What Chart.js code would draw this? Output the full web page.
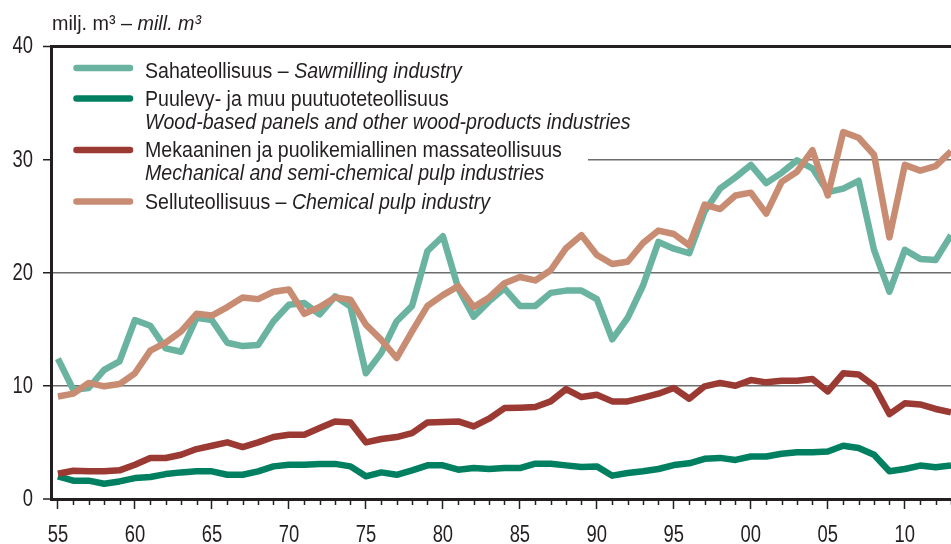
<!DOCTYPE html>
<html>
<head>
<meta charset="utf-8">
<script src="https://cdn.jsdelivr.net/npm/chart.js@4.4.1/dist/chart.umd.min.js"></script>
<style>
html,body{margin:0;padding:0;background:#fff;}
#wrap{width:951px;height:544px;position:relative;}
</style>
</head>
<body>
<div id="wrap"><canvas id="c" width="951" height="544"></canvas></div>
<script>
const years = [];
for (let y = 1955; y <= 2013; y++) years.push(y);

const sawmilling = [12.4, 9.65, 9.8, 11.4, 12.15, 15.8, 15.3, 13.3, 13.0, 16.0, 15.8, 13.8, 13.5, 13.6, 15.7, 17.15, 17.3, 16.3, 17.9, 17.0,
  11.1, 12.9, 15.7, 17.05, 21.9, 23.2, 18.6, 16.1, 17.45, 18.6, 17.05, 17.05, 18.2, 18.4, 18.4, 17.65, 14.1, 16.0, 18.85,
  22.7, 22.1, 21.7, 25.4, 27.4, 28.4, 29.5, 27.9, 28.8, 29.9, 29.2, 27.1, 27.4, 28.1, 22.0, 18.3, 22.0, 21.2, 21.1, 23.3];

const woodPanels = [2.0, 1.62, 1.62, 1.35, 1.55, 1.85, 1.94, 2.2, 2.35, 2.44, 2.44, 2.14, 2.14, 2.44, 2.88, 3.03, 3.03, 3.1, 3.1, 2.88,
  2.0, 2.35, 2.14, 2.53, 2.97, 2.97, 2.59, 2.73, 2.65, 2.73, 2.73, 3.12, 3.12, 2.97, 2.82, 2.88, 2.06, 2.29, 2.45,
  2.65, 3.0, 3.15, 3.55, 3.63, 3.45, 3.75, 3.75, 4.0, 4.13, 4.13, 4.2, 4.7, 4.5, 3.9, 2.45, 2.65, 2.95, 2.8, 2.95];

const mechanicalPulp = [2.23, 2.5, 2.44, 2.44, 2.53, 3.03, 3.62, 3.62, 3.91, 4.41, 4.7, 5.0, 4.59, 5.0, 5.47, 5.67, 5.67, 6.26, 6.85, 6.76,
  5.0, 5.3, 5.47, 5.82, 6.76, 6.79, 6.85, 6.41, 7.09, 8.03, 8.06, 8.12, 8.62, 9.7, 9.0, 9.2, 8.62, 8.62, 8.95,
  9.3, 9.8, 8.85, 9.95, 10.25, 10.0, 10.5, 10.3, 10.45, 10.45, 10.6, 9.5, 11.1, 11.0, 10.0, 7.5, 8.45, 8.35, 7.95, 7.65];

const chemicalPulp = [9.05, 9.3, 10.25, 9.95, 10.15, 11.1, 13.1, 13.8, 14.8, 16.35, 16.2, 16.95, 17.8, 17.65, 18.3, 18.5, 16.35, 16.95, 17.8, 17.6,
  15.4, 14.05, 12.45, 14.8, 17.05, 18.0, 18.8, 16.95, 17.8, 19.05, 19.6, 19.3, 20.2, 22.15, 23.3, 21.55, 20.75, 20.95, 22.6,
  23.7, 23.4, 22.4, 26.0, 25.6, 26.8, 27.05, 25.2, 28.0, 28.9, 30.8, 26.8, 32.4, 31.9, 30.4, 23.1, 29.5, 29.0, 29.4, 30.7];

const xTickYears = [1955, 1960, 1965, 1970, 1975, 1980, 1985, 1990, 1995, 2000, 2005, 2010];
const yTicks = [0, 10, 20, 30, 40];

const unitTitle = ['milj. m³ – ', 'mill. m³'];
const legendItems = [
  { color: '#6ab3a1', lines: [[['Sahateollisuus – ', false], ['Sawmilling industry', true]]] },
  { color: '#008060', lines: [[['Puulevy- ja muu puutuoteteollisuus', false]], [['Wood-based panels and other wood-products industries', true]]] },
  { color: '#9b3a33', lines: [[['Mekaaninen ja puolikemiallinen massateollisuus', false]], [['Mechanical and semi-chemical pulp industries', true]]] },
  { color: '#c88c73', lines: [[['Selluteollisuus – ', false], ['Chemical pulp industry', true]]] }
];

const FONT = '"Liberation Sans", Arial, sans-serif';
const TXT = '#231f20';

function pts(arr) { return arr.map((v, i) => ({ x: years[i], y: v })); }

// draws horizontally condensed text (the reference uses a narrow typeface)
function drawRich(ctx, parts, x, y, size, sx, align) {
  ctx.save();
  let total = 0;
  for (const [t, it] of parts) {
    ctx.font = (it ? 'italic ' : '') + size + 'px ' + FONT;
    total += ctx.measureText(t).width * sx;
  }
  let cx = x;
  if (align === 'center') cx = x - total / 2;
  else if (align === 'right') cx = x - total;
  ctx.textAlign = 'left';
  for (const [t, it] of parts) {
    ctx.font = (it ? 'italic ' : '') + size + 'px ' + FONT;
    ctx.save();
    ctx.translate(cx, y);
    ctx.scale(sx, 1);
    ctx.fillText(t, 0, 0);
    ctx.restore();
    cx += ctx.measureText(t).width * sx;
  }
  ctx.restore();
}

const decor = {
  id: 'decor',
  beforeDatasetsDraw(chart) {
    const ctx = chart.ctx;
    ctx.save();
    ctx.fillStyle = '#fff';
    ctx.fillRect(chart.chartArea.left + 2, 50, 588 - chart.chartArea.left - 2, 168);
    ctx.restore();
  },
  afterDraw(chart) {
    const ctx = chart.ctx;
    const xs = chart.scales.x;
    const ys = chart.scales.y;
    const area = chart.chartArea;
    ctx.save();
    // minor ticks
    ctx.strokeStyle = TXT;
    ctx.lineWidth = 1.5;
    for (const yr of years) {
      if (yr % 5 === 0) continue;
      const px = Math.round(xs.getPixelForValue(yr)) + 0.5;
      ctx.beginPath();
      ctx.moveTo(px, area.bottom);
      ctx.lineTo(px, area.bottom + 6);
      ctx.stroke();
    }
    ctx.fillStyle = TXT;
    // axis tick labels (from the scales' own ticks)
    ctx.textBaseline = 'alphabetic';
    for (const t of xs.ticks) {
      const lbl = String(t.value % 100).padStart(2, '0');
      drawRich(ctx, [[lbl, false]], xs.getPixelForValue(t.value), 541.5, 23, 0.8, 'center');
    }
    ctx.textBaseline = 'middle';
    for (const t of ys.ticks) {
      drawRich(ctx, [[String(t.value), false]], 33, ys.getPixelForValue(t.value) + 1, 23, 0.8, 'right');
    }
    // unit title
    ctx.textBaseline = 'alphabetic';
    drawRich(ctx, [[unitTitle[0], false], [unitTitle[1], true]], 52, 30, 21, 0.94);
    // legend
    const swY = [68, 98.5, 150, 201.5];
    const baseY = [[77.5], [106, 128.5], [157, 179.5], [209]];
    legendItems.forEach((it, i) => {
      ctx.strokeStyle = it.color;
      ctx.lineWidth = 6.5;
      ctx.lineCap = 'round';
      ctx.beginPath();
      ctx.moveTo(76.5, swY[i]);
      ctx.lineTo(130, swY[i]);
      ctx.stroke();
      ctx.fillStyle = TXT;
      it.lines.forEach((ln, j) => drawRich(ctx, ln, 145, baseY[i][j], 22, 0.89));
    });
    ctx.restore();
  }
};

const ds = (label, data, color) => ({
  label, data: pts(data), borderColor: color, backgroundColor: color,
  borderWidth: 6.5, pointRadius: 0, tension: 0, borderJoinStyle: 'round', fill: false
});

new Chart(document.getElementById('c'), {
  type: 'line',
  data: {
    datasets: [
      ds('Selluteollisuus – Chemical pulp industry', chemicalPulp, legendItems[3].color),
      ds('Mekaaninen ja puolikemiallinen massateollisuus', mechanicalPulp, legendItems[2].color),
      ds('Sahateollisuus – Sawmilling industry', sawmilling, legendItems[0].color),
      ds('Puulevy- ja muu puutuoteteollisuus', woodPanels, legendItems[1].color)
    ]
  },
  options: {
    responsive: false,
    animation: false,
    devicePixelRatio: 1,
    layout: { padding: { top: 46, right: 0, left: 0, bottom: 0 } },
    plugins: { legend: { display: false }, tooltip: { enabled: false }, title: { display: false } },
    scales: {
      x: {
        type: 'linear',
        min: 1954.55,
        max: 2013,
        afterBuildTicks: (s) => { s.ticks = xTickYears.map(v => ({ value: v })); },
        afterFit: (s) => { s.height = 45; },
        grid: { drawOnChartArea: false, drawTicks: true, tickLength: 10, tickColor: TXT, tickWidth: 1.5 },
        border: { display: true, color: TXT, width: 3 },
        ticks: { display: false }
      },
      y: {
        min: 0, max: 40,
        afterBuildTicks: (s) => { s.ticks = yTicks.map(v => ({ value: v })); },
        afterFit: (s) => { s.width = 51; },
        grid: {
          drawTicks: true, tickLength: 8,
          color: (c) => (c.tick && (c.tick.value === 40 || c.tick.value === 0)) ? TXT : '#6d6d6d',
          lineWidth: (c) => (c.tick && c.tick.value === 40) ? 3 : (c.tick && c.tick.value === 0 ? 2 : 1.5),
          tickColor: TXT, tickWidth: 1.5
        },
        border: { display: true, color: TXT, width: 3 },
        ticks: { display: false }
      }
    }
  },
  plugins: [decor]
});
</script>
</body>
</html>
